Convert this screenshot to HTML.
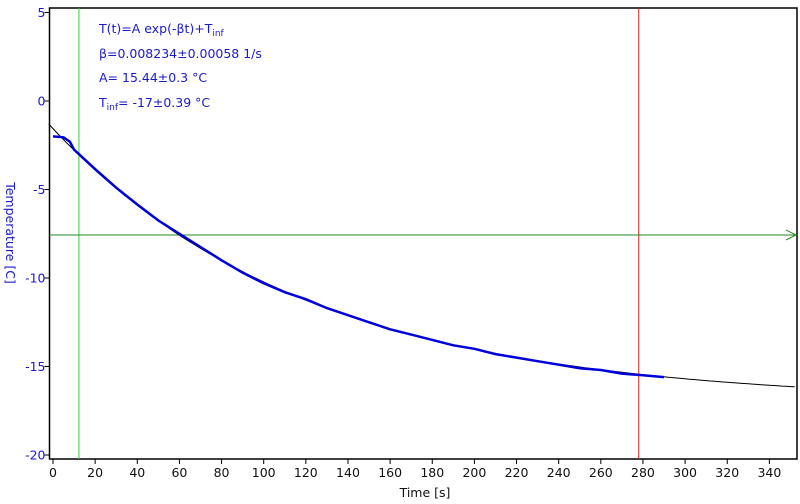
<!DOCTYPE html>
<html><head><meta charset="utf-8"><style>
body{margin:0;background:#fff;}
svg{display:block;font-family:"DejaVu Sans","Liberation Sans",sans-serif;}
sub{line-height:0;font-size:9px;vertical-align:-3px;}
</style></head><body>
<svg id="c" width="800" height="504"></svg>
<script>
const times=[0,5,8,10,20,30,40,50,60,70,80,90,100,110,120,130,140,150,160,170,180,190,200,210,220,230,240,250,260,270,280,290];
const temps=[-2.0,-2.05,-2.3,-2.75,-3.85,-4.9,-5.85,-6.75,-7.5,-8.25,-9.0,-9.7,-10.3,-10.8,-11.2,-11.7,-12.1,-12.5,-12.9,-13.2,-13.5,-13.8,-14.0,-14.3,-14.5,-14.7,-14.9,-15.1,-15.2,-15.4,-15.5,-15.6];
const fitA=15.44, fitBeta=0.008234, fitTinf=-17;
const xTicks=[0,20,40,60,80,100,120,140,160,180,200,220,240,260,280,300,320,340];
const yTicks=[5,0,-5,-10,-15,-20];
const cursorStart=12.3, cursorEnd=278, hLevel=-7.57;

const svg=document.getElementById('c');
const NS='http://www.w3.org/2000/svg';
const L=49.5,R=797,T=8,B=459;
const X=t=>53+t*2.107;
const Y=v=>101-v*17.7;
function mk(tag,attrs,parent){const e=document.createElementNS(NS,tag);for(const k in attrs)e.setAttribute(k,attrs[k]);(parent||svg).appendChild(e);return e;}

let fr=mk('rect',{x:L,y:T,width:R-L,height:B-T,fill:'none',stroke:'#000','stroke-width':1.5});



xTicks.forEach(t=>{
  let l=mk('line',{x1:X(t),x2:X(t),y1:B,y2:B+5,stroke:'#000'});
  
  
  let tx=mk('text',{x:X(t),y:B+18,'text-anchor':'middle','font-size':12.5,fill:'#111'});
  tx.textContent=t;
  
  
});
yTicks.forEach(v=>{
  let l=mk('line',{x1:L-5,x2:L,y1:Y(v),y2:Y(v),stroke:'#000'});
  
  
  let tx=mk('text',{x:L-4,y:Y(v)+4.5,'text-anchor':'end','font-size':12.5,fill:'#1a1acc'});
  tx.textContent=v;
  
  
});
let xt=mk('text',{x:425,y:497,'text-anchor':'middle','font-size':12.5,fill:'#111'});
xt.textContent='Time [s]';


let yt=mk('text',{x:0,y:0,'text-anchor':'middle','font-size':12.5,fill:'#1a1acc',transform:'translate(6,233) rotate(90)'});
yt.textContent='Temperature [C]';



let g1=mk('line',{x1:X(cursorStart),x2:X(cursorStart),y1:T,y2:B,stroke:'#33cc33'});


let r1=mk('line',{x1:X(cursorEnd),x2:X(cursorEnd),y1:T,y2:B,stroke:'#cc2222'});


let h1=mk('path',{d:`M${L} ${Y(hLevel)}H${R-1}M${R-11} ${Y(hLevel)-5}L${R-1} ${Y(hLevel)}L${R-11} ${Y(hLevel)+5}`,stroke:'#228822',fill:'none'});



let fp=[];
for(let t=-2;t<=353;t+=2){fp.push(X(t).toFixed(1)+','+Y(fitA*Math.exp(-fitBeta*t)+fitTinf).toFixed(1));}
let fl=mk('polyline',{points:fp.join(' '),fill:'none',stroke:'#000','stroke-width':1});



let dp=[];
for(let i=0;i<times.length;i++){
  dp.push(X(times[i]).toFixed(1)+','+Y(temps[i]).toFixed(1));
}
let dl=mk('polyline',{points:dp.join(' '),fill:'none',stroke:'#0000dd','stroke-width':2.5});


</script>
<div style="position:absolute;left:99px;top:17px;color:#1a1acc;font-family:'DejaVu Sans','Liberation Sans',sans-serif;font-size:12.5px;line-height:24.5px">
<div>T(t)=A exp(-βt)+T<sub>inf</sub></div>
<div>β=0.008234±0.00058 1/s</div>
<div>A= 15.44±0.3 °C</div>
<div>T<sub>inf</sub>= -17±0.39 °C</div>
</div>
</body></html>
